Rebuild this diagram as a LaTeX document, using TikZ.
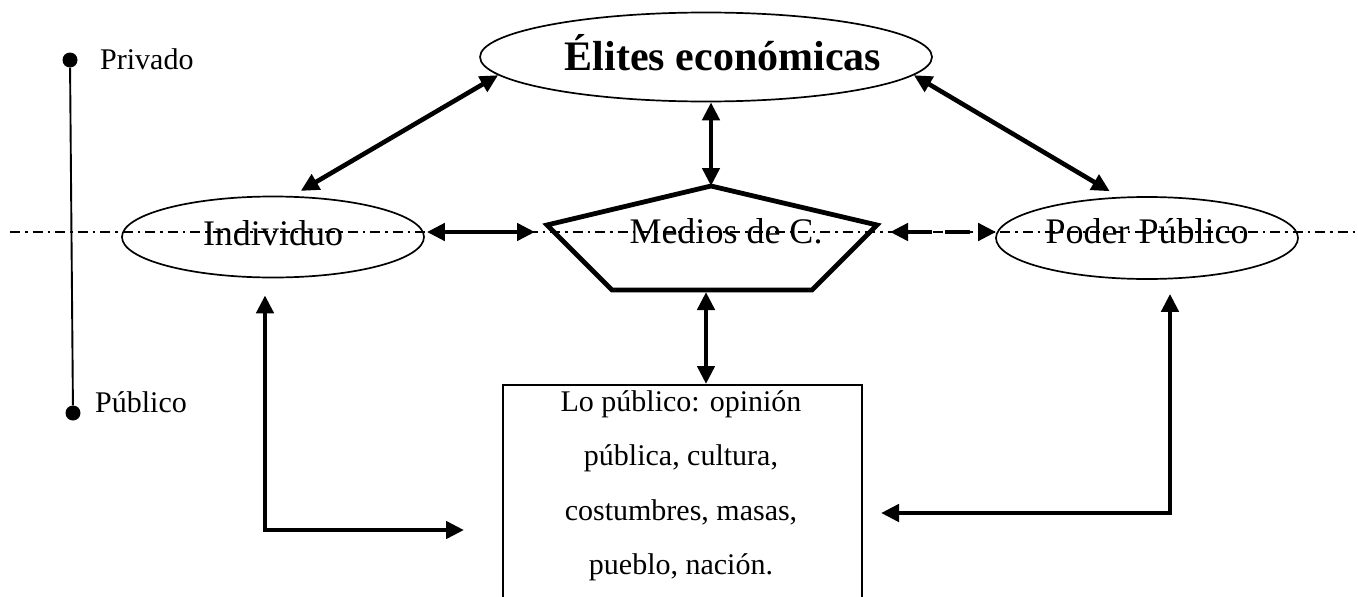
\documentclass[tikz,border=0pt]{standalone}
\usepackage{fontspec}
\setmainfont{Liberation Serif}
\usetikzlibrary{arrows.meta,calc,shapes.geometric}
\newcommand{\smalltxt}{\fontsize{30}{54.5}\selectfont}
\newcommand{\midtxt}{\fontsize{36}{43}\selectfont}
\newcommand{\bigtxt}{\fontsize{42}{50}\selectfont\bfseries}
\begin{document}
\begin{tikzpicture}[x=1pt,y=-1pt,
  ell/.style={draw, ellipse, line width=1.7pt, inner sep=0pt},
  dotnode/.style={circle, fill=black, inner sep=0pt, minimum size=15pt},
  arr/.style={line width=4.6pt, {Triangle[length=18pt,width=17pt]}-{Triangle[length=18pt,width=17pt]}},
  pent/.style={line width=4.8pt, line join=miter},
  axisline/.style={line width=1.3pt, dash pattern=on 10pt off 5pt on 2.5pt off 5pt},
  scaleline/.style={line width=1.9pt}
]
\useasboundingbox (0,0) rectangle (1358,597);
\clip (0,0) rectangle (1358,597);

% dash-dot division line
\coordinate (axl) at (10,232);
\coordinate (axr) at (1358,232);
\draw[axisline] (axl) -- (axr);

% private / public scale
\node[dotnode] (pdot) at (70,60) {};
\node[dotnode] (qdot) at (73,413) {};
\draw[scaleline] (pdot) -- (qdot);
\node[font=\smalltxt, anchor=base west, inner sep=0pt] (priv) at (100,69) {Privado};
\node[font=\smalltxt, anchor=base west, inner sep=0pt] (pub) at (95,412) {Público};

% nodes
\node[ell, minimum width=452pt, minimum height=89pt] (elites) at (706,57) {};
\node[font=\bigtxt, anchor=base, inner sep=0pt] (elitestext) at (723,70) {Élites económicas};
\node[ell, minimum width=302pt, minimum height=81pt, font=\midtxt, text height=16pt, text depth=0pt] (indiv) at (273,237) {Individuo};
\node[ell, minimum width=302pt, minimum height=82pt, font=\midtxt, text height=10pt, text depth=0pt] (poder) at (1147,238) {Poder Público};

\draw[pent] (711,186) coordinate (pt) -- (877,225) coordinate (pr) -- (812,290) coordinate (pbr)
  -- (612,290) coordinate (pbl) -- (547,225) coordinate (pl) -- cycle;
\node[font=\midtxt, anchor=base, inner sep=0pt] (medios) at (726,243) {Medios de C.};
\coordinate (pb) at ($(pbl)!0.47!(pbr)$);

\node[draw, line width=2pt, minimum width=359pt, minimum height=240pt, anchor=north, inner sep=0pt] (lopub) at (682.5,384) {};
\node[font=\smalltxt, align=center, anchor=north, inner sep=0pt] (lopubtext) at (681,390)
  {Lo público: opinión\\pública, cultura,\\costumbres, masas,\\pueblo, nación.};

% connectors
\draw[arr, shorten >=10pt] (elites.185.5) -- (indiv.65);
\draw[arr] (pt |- elites.south) -- (pt);
\draw[arr, shorten >=11pt] (elites.355.5) -- (poder.124);
\draw[arr] ($(indiv.east)+(2,-5)$) -- ($(pl)+(-12,7)$);
\draw[arr, dash pattern=on 25pt off 13pt] ($(pr)+(13,7)$) -- ($(poder.west)+(1,-6)$);
\draw[arr, shorten <=2pt] (pb) -- (pb |- lopub.north);
\draw[arr] ($(indiv.south)+(-8,17)$) |- ($(lopub.north west)+(-38,146)$);
\draw[arr] ($(poder.south)+(23,14)$) |- ($(lopub.north east)+(18,129)$);
\end{tikzpicture}
\end{document}
